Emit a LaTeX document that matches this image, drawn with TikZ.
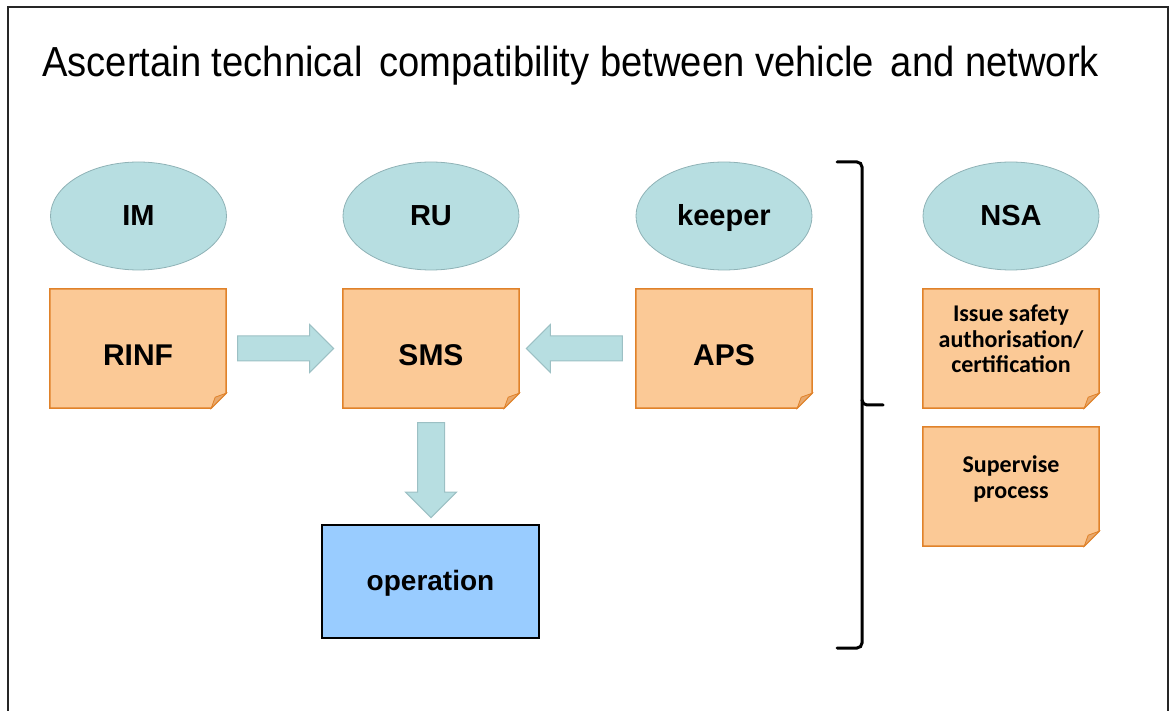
\documentclass[tikz,border=0pt]{standalone}
\usepackage{fontspec}
\setmainfont{Liberation Sans}
\newfontfamily\carlitofont{Carlito}
\usetikzlibrary{shapes.geometric,shapes.arrows,calc}
\pgfdeclarelayer{background}
\pgfsetlayers{background,main}
\definecolor{ellfill}{HTML}{B7DEE1}
\definecolor{elldraw}{HTML}{8FB2B6}
\definecolor{notefill}{HTML}{FBC996}
\definecolor{notedraw}{HTML}{E0822A}
\definecolor{foldfill}{HTML}{E8A86C}
\definecolor{arrfill}{HTML}{B7DEE1}
\definecolor{arrdraw}{HTML}{9CC0C4}
\definecolor{opfill}{HTML}{99CCFF}
\tikzset{
  role/.style={ellipse, draw=elldraw, line width=0.8pt, fill=ellfill, minimum width=176pt, minimum height=108pt, inner sep=0pt, text height=20pt, text depth=0pt, font=\fontsize{29}{32}\selectfont\bfseries},
  notebox/.style={rectangle, minimum width=176pt, minimum height=119pt, inner sep=0pt, text height=35pt, text depth=0pt, font=\fontsize{30}{32}\selectfont\bfseries, align=center},
  smallnote/.style={notebox, text depth=0pt, font=\carlitofont\fontsize{24}{25.5}\selectfont\bfseries},
  blockarrow/.style={single arrow, draw=arrdraw, line width=1pt, fill=arrfill, inner xsep=0pt, inner ysep=12pt, single arrow head extend=11.5pt, minimum height=96pt, anchor=tail},
  opbox/.style={rectangle, draw=black, line width=1.6pt, fill=opfill, minimum width=217pt, minimum height=113pt, inner sep=0pt, text height=18pt, text depth=0pt, font=\fontsize{28}{30}\selectfont\bfseries},
  brace/.style={line width=3pt, rounded corners=5pt, line cap=round}
}
\newcommand{\notebg}[1]{%
  \fill[notefill, draw=notedraw, line width=1.5pt]
    (#1.north west) -- (#1.north east) -- ([yshift=15pt]#1.south east)
    -- ([xshift=-15pt]#1.south east) -- (#1.south west) -- cycle;
  \fill[foldfill, draw=notedraw, line width=0.8pt]
    ([yshift=15pt]#1.south east) -- ([xshift=-15pt]#1.south east)
    -- ([xshift=-11pt,yshift=11pt]#1.south east) -- cycle;}
\begin{document}
\begin{tikzpicture}[x=1pt,y=-1pt]
\useasboundingbox (0,0) rectangle (1171,711);
\draw[line width=1.5pt, black!85] (8,711) -- (8,7) -- (1168,7) -- (1168,711);
\node[anchor=base west, inner sep=0pt] (title) at (42,77)
  {\scalebox{0.909}[1]{\fontsize{42}{48}\selectfont Ascertain technical\, compatibility between vehicle\, and network}};

\node[role] (im) at (138.5,216) {IM};
\node[role] (ru) at (431,216) {RU};
\node[role] (keeper) at (724,216) {keeper};
\node[role] (nsa) at (1011,216) {NSA};

\node[notebox] (rinf) at (138,348.5) {RINF};
\node[notebox] (sms) at (431,348.5) {SMS};
\node[notebox] (aps) at (724,348.5) {APS};
\node[smallnote, text height=49pt] (issue) at (1011,348.5) {Issue safety\\authorisation/\\certification};
\node[smallnote, text height=23pt] (superv) at (1011,486.5) {Supervise\\process};

\begin{pgfonlayer}{background}
\notebg{rinf}
\notebg{sms}
\notebg{aps}
\notebg{issue}
\notebg{superv}
\end{pgfonlayer}

\node[opbox] (op) at (430.5,581.5) {operation};

\node[blockarrow] (a1) at ($(rinf.east)+(11,0)$) {};
\node[blockarrow, rotate=180] (a2) at ($(aps.west)+(-13,0)$) {};
\node[blockarrow, rotate=-90, inner ysep=13pt, single arrow head extend=12pt, minimum height=95pt] (a3) at ($(sms.south)+(0,14)$) {};

\draw[brace] (837,162) -- (862,162) -- (862,405) -- (883,405);
\draw[brace] (862,400) -- (862,648) -- (837,648);
\end{tikzpicture}
\end{document}
